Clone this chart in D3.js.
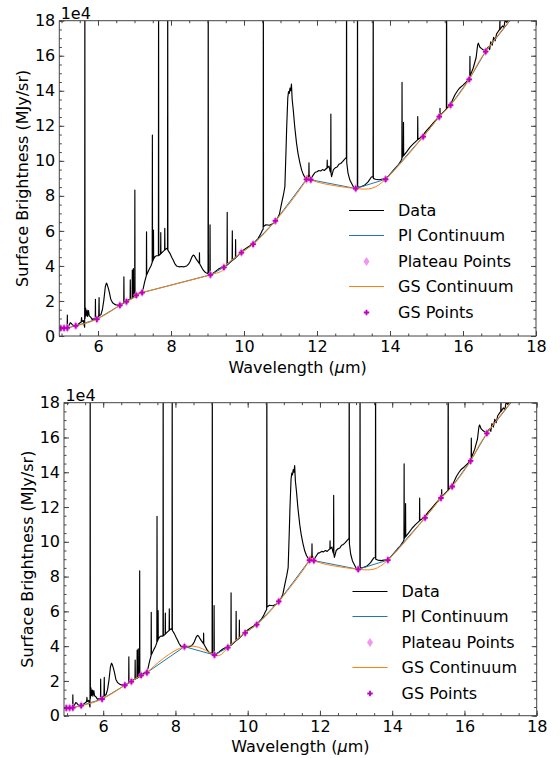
<!DOCTYPE html>
<html><head><meta charset="utf-8">
<script src="https://cdn.jsdelivr.net/npm/d3@7"></script>
<style>
body{margin:0;background:#fff}
svg{display:block}
text{font-family:"DejaVu Sans",sans-serif;fill:#000}
</style>
</head><body>
<svg id="c" width="560" height="758"></svg>
<script>
// Spectrum: [wavelength (um), surface brightness (1e4 MJy/sr)]
const spectrum = [
[4.94,0.47],[4.97,0.44],[5.02,0.45],[5.08,0.45],[5.12,0.47],[5.155,0.48],[5.16,1.2],[5.165,0.5],
[5.20,0.58],[5.24,0.76],[5.27,0.72],[5.30,0.63],[5.35,0.60],[5.40,0.62],[5.45,0.66],[5.50,0.74],
[5.54,0.80],[5.55,1.05],[5.56,0.82],[5.60,0.88],[5.62,0.62],[5.635,0.50],[5.64,22],[5.645,1.0],
[5.66,1.6],[5.675,1.15],[5.70,1.48],[5.715,1.12],[5.74,1.45],[5.76,1.15],[5.80,1.08],[5.84,0.95],
[5.89,0.98],[5.925,1.0],[5.93,2.1],[5.935,1.0],[5.98,1.02],[6.02,1.12],[6.03,2.2],[6.035,1.15],
[6.08,1.22],[6.12,1.5],[6.16,2.05],[6.20,2.8],[6.23,3.02],[6.25,2.95],[6.28,2.75],[6.31,2.5],
[6.35,2.1],[6.40,1.9],[6.45,1.82],[6.50,1.77],[6.56,1.76],[6.62,1.8],[6.67,1.85],[6.705,1.88],
[6.71,3.38],[6.715,1.9],[6.76,1.97],[6.82,2.05],[6.88,2.1],[6.885,3.2],[6.89,2.12],[6.935,2.15],
[6.94,3.77],[6.945,2.16],[6.965,2.2],[6.97,3.85],[6.975,2.2],[7.005,2.25],[7.01,8.33],[7.015,2.28],
[7.05,2.36],[7.10,2.42],[7.15,2.47],[7.21,2.55],[7.24,2.72],[7.28,3.1],[7.325,3.45],[7.33,5.95],
[7.335,3.5],[7.40,3.8],[7.45,4.0],[7.485,4.2],[7.49,11.47],[7.495,4.25],[7.515,4.35],[7.52,6.05],
[7.525,4.4],[7.56,4.53],[7.60,4.58],[7.655,4.58],[7.66,22],[7.665,4.6],[7.70,4.65],[7.715,4.68],
[7.72,5.9],[7.725,4.7],[7.78,4.82],[7.825,4.9],[7.83,6.15],[7.835,4.92],[7.88,5.0],[7.905,4.95],
[7.91,22],[7.915,4.9],[7.97,4.72],[8.02,4.5],[8.06,4.34],[8.10,4.15],[8.15,4.0],[8.22,3.95],
[8.29,3.97],[8.36,3.95],[8.43,4.0],[8.48,4.1],[8.52,4.24],[8.57,4.5],[8.61,4.62],[8.64,4.58],
[8.68,4.43],[8.72,4.3],[8.775,4.15],[8.78,4.75],[8.785,4.12],[8.83,3.95],[8.88,3.77],[8.93,3.65],
[8.97,3.6],[9.015,3.57],[9.02,22],[9.025,3.55],[9.065,3.52],[9.07,6.34],[9.075,3.5],[9.09,3.5],
[9.20,3.65],[9.30,3.82],[9.40,3.93],[9.48,4.0],[9.535,4.05],[9.54,7.06],[9.545,4.06],[9.62,4.2],
[9.675,4.3],[9.68,6.0],[9.685,4.32],[9.765,4.45],[9.77,5.5],[9.775,4.47],[9.85,4.63],[9.93,4.8],
[10.00,4.93],[10.10,5.07],[10.20,5.2],[10.30,5.37],[10.38,5.55],[10.45,5.8],[10.50,6.02],[10.525,6.1],
[10.53,22],[10.535,6.25],[10.60,6.35],[10.70,6.32],[10.80,6.42],[10.90,6.65],[10.97,6.95],[11.03,7.57],
[11.08,8.05],[11.12,8.52],[11.15,10.5],[11.17,11.95],[11.20,13.6],[11.22,13.95],[11.24,13.85],[11.26,14.15],
[11.28,14.0],[11.30,14.38],[11.32,13.5],[11.35,12.9],[11.39,11.95],[11.44,11.0],[11.48,10.43],[11.53,9.9],
[11.58,9.47],[11.63,9.2],[11.67,9.06],[11.71,8.96],[11.75,9.02],[11.775,9.2],[11.78,9.89],[11.785,9.2],
[11.83,8.96],[11.90,9.2],[11.95,9.35],[12.00,9.38],[12.05,9.45],[12.10,9.42],[12.15,9.5],[12.20,9.45],
[12.25,9.55],[12.275,9.6],[12.28,10.05],[12.285,9.6],[12.33,9.7],[12.36,9.4],[12.375,9.35],[12.38,12.67],
[12.385,9.3],[12.40,9.1],[12.45,9.5],[12.50,9.6],[12.55,9.65],[12.60,9.8],[12.65,9.85],[12.70,9.95],
[12.76,10.1],[12.805,10.2],[12.81,22],[12.815,9.9],[12.85,9.3],[12.90,8.9],[12.95,8.7],[13.00,8.5],
[13.06,8.42],[13.105,8.45],[13.11,22],[13.115,8.5],[13.20,8.52],[13.30,8.6],[13.40,8.8],[13.49,9.08],
[13.535,9.1],[13.54,22],[13.545,9.0],[13.60,8.95],[13.70,8.92],[13.80,8.96],[13.88,9.0],[13.95,9.1],
[14.05,9.35],[14.15,9.6],[14.22,9.75],[14.30,10.0],[14.325,10.1],[14.33,14.48],[14.335,10.2],[14.365,10.3],
[14.37,12.2],[14.375,10.3],[14.45,10.5],[14.55,10.78],[14.65,11.0],[14.755,11.2],[14.76,12.52],[14.765,11.22],
[14.85,11.35],[14.91,11.48],[15.00,11.72],[15.10,11.95],[15.20,12.2],[15.30,12.42],[15.365,12.6],[15.37,13.0],
[15.375,12.58],[15.45,12.75],[15.545,12.95],[15.55,22],[15.555,13.0],[15.60,13.1],[15.66,13.22],[15.72,13.5],
[15.78,13.77],[15.85,14.0],[15.91,14.16],[16.00,14.32],[16.10,14.52],[16.185,14.75],[16.19,15.96],[16.195,14.85],
[16.28,15.3],[16.36,15.9],[16.40,16.6],[16.42,16.72],[16.46,16.5],[16.50,16.42],[16.55,16.34],[16.62,16.32],
[16.70,16.5],[16.73,16.35],[16.76,16.8],[16.80,16.6],[16.84,17.05],[16.88,16.85],[16.92,17.25],[16.97,17.4],
[17.005,17.5],[17.01,17.96],[17.015,17.5],[17.08,17.7],[17.12,17.6],[17.15,18.0],[17.20,17.9],[17.28,18.2],
[17.40,18.6],[17.60,19.3],[17.80,20.0],[18.00,20.6]
];
// Continuum anchor points (top panel), [wavelength, brightness 1e4]
const pointsTop = [
[4.98,0.44],[5.07,0.45],[5.16,0.46],[5.39,0.58],[5.97,0.96],[6.60,1.75],[6.78,1.96],[7.05,2.32],
[7.21,2.48],[9.08,3.49],[9.45,3.92],[9.93,4.76],[10.25,5.24],[10.86,6.57],[11.71,8.94],[11.83,8.92],
[13.06,8.42],[13.88,8.95],[14.91,11.38],[15.35,12.52],[15.66,13.18],[16.17,14.65],[16.62,16.24],[17.80,19.35]
];
// Continuum anchor points (bottom panel)
const pointsBottom = [
[4.98,0.44],[5.07,0.45],[5.16,0.46],[5.39,0.58],[5.97,0.96],[6.60,1.75],[6.78,1.96],[7.05,2.32],
[7.21,2.48],[8.25,3.97],[9.08,3.49],[9.45,3.92],[9.93,4.76],[10.25,5.24],[10.86,6.57],[11.71,8.94],[11.83,8.92],
[13.06,8.42],[13.88,8.95],[14.91,11.38],[15.35,12.52],[15.66,13.18],[16.17,14.65],[16.62,16.24],[17.80,19.35]
];
const xTicks = [6,8,10,12,14,16,18];
const yTicks = [0,2,4,6,8,10,12,14,16,18];
const legendLabels = ["Data","Pl Continuum","Plateau Points","GS Continuum","GS Points"];

const C = {data:"#000000", pl:"#1f77b4", plateau:"#ee82ee", gs:"#ff7f0e", gsPts:"#bf00bf"};
const legendLineColors = [C.data, C.pl, null, C.gs, null];
const diamond = "M0,-4.5L3,0L0,4.5L-3,0Z";
const plus = "M-0.9,-2.7H0.9V-0.9H2.7V0.9H0.9V2.7H-0.9V0.9H-2.7V-0.9H-0.9Z";

const svg = d3.select("#c");
const panels = [
  {L:59.3,R:536,T:20.7,B:336,x0:4.94,pts:pointsTop,legX:349,legY:209.5},
  {L:64,R:536.7,T:402.7,B:715.7,x0:4.915,pts:pointsBottom,legX:352.5,legY:590.5}
];
const axisCol = "#444";

panels.forEach((p,i)=>{
  const x = d3.scaleLinear().domain([p.x0,18]).range([p.L,p.R]);
  const y = d3.scaleLinear().domain([0,18]).range([p.B,p.T]);
  const cid = "clip"+i;
  svg.append("clipPath").attr("id",cid).append("rect")
    .attr("x",p.L).attr("y",p.T).attr("width",p.R-p.L).attr("height",p.B-p.T);
  const plot = svg.append("g").attr("clip-path",`url(#${cid})`);
  const line = d3.line().x(d=>x(d[0])).y(d=>y(d[1]));
  const spline = d3.line().x(d=>x(d[0])).y(d=>y(d[1])).curve(d3.curveNatural);

  plot.append("path").datum(spectrum).attr("d",line)
    .attr("fill","none").attr("stroke",C.data).attr("stroke-width",1.15).attr("stroke-linejoin","round");
  plot.append("path").datum(p.pts).attr("d",line)
    .attr("fill","none").attr("stroke",C.pl).attr("stroke-width",1);
  plot.selectAll(".pl").data(p.pts).enter().append("path")
    .attr("d",diamond).attr("transform",d=>`translate(${x(d[0])},${y(d[1])})`)
    .attr("fill",C.plateau).attr("opacity",0.85);
  plot.append("path").datum(p.pts).attr("d",spline)
    .attr("fill","none").attr("stroke",C.gs).attr("stroke-width",1);
  plot.selectAll(".gp").data(p.pts).enter().append("path")
    .attr("d",plus).attr("transform",d=>`translate(${x(d[0])},${y(d[1])})`)
    .attr("fill",C.gsPts);

  // axes
  const minorX = d3.range(5,18.01,0.5).filter(v=>v>=p.x0);
  const minorY = d3.range(0,18.01,0.5);
  const mk = (axis, tr) => {
    const g = svg.append("g").attr("transform",tr).call(axis);
    g.select(".domain").remove();
    g.selectAll(".tick line").attr("stroke",axisCol);
    g.selectAll(".tick text").attr("font-size",16).attr("font-family","DejaVu Sans").attr("fill","#000");
    return g;
  };
  mk(d3.axisBottom(x).tickValues(minorX).tickSize(-2.5).tickFormat(""), `translate(0,${p.B})`);
  mk(d3.axisTop(x).tickValues(minorX).tickSize(-2.5).tickFormat(""), `translate(0,${p.T})`);
  mk(d3.axisLeft(y).tickValues(minorY).tickSize(-2.5).tickFormat(""), `translate(${p.L},0)`);
  mk(d3.axisRight(y).tickValues(minorY).tickSize(-2.5).tickFormat(""), `translate(${p.R},0)`);
  mk(d3.axisBottom(x).tickValues(xTicks).tickSize(-5).tickPadding(5).tickFormat(d3.format("d")), `translate(0,${p.B})`);
  mk(d3.axisTop(x).tickValues(xTicks).tickSize(-5).tickFormat(""), `translate(0,${p.T})`);
  mk(d3.axisLeft(y).tickValues(yTicks).tickSize(-5).tickPadding(4).tickFormat(d3.format("d")), `translate(${p.L},0)`);
  mk(d3.axisRight(y).tickValues(yTicks).tickSize(-5).tickFormat(""), `translate(${p.R},0)`);

  svg.append("rect").attr("x",p.L).attr("y",p.T).attr("width",p.R-p.L).attr("height",p.B-p.T)
    .attr("fill","none").attr("stroke",axisCol).attr("stroke-width",1);

  svg.append("text").attr("x",p.L+1.4).attr("y",p.T-2).attr("font-size",16).text("1e4");
  svg.append("text").attr("transform",`translate(${p.L-31.5},${(p.T+p.B)/2}) rotate(-90)`)
    .attr("text-anchor","middle").attr("font-size",16).text("Surface Brightness (MJy/sr)");
  const xl = svg.append("text").attr("x",(p.L+p.R)/2).attr("y",p.B+36.5)
    .attr("text-anchor","middle").attr("font-size",16);
  xl.append("tspan").text("Wavelength (");
  xl.append("tspan").attr("font-style","italic").text("\u03bc");
  xl.append("tspan").text("m)");

  // legend
  const lg = svg.append("g");
  legendLabels.forEach((lab,k)=>{
    const yy = Math.round(p.legY + k*25.5) + 0.5;
    const cx = p.legX + 17.5;
    if (legendLineColors[k]) {
      lg.append("line").attr("x1",p.legX).attr("x2",p.legX+35).attr("y1",yy).attr("y2",yy)
        .attr("stroke",legendLineColors[k]).attr("stroke-width",k===0?1.15:1);
    } else if (k===2) {
      lg.append("path").attr("d",diamond).attr("transform",`translate(${cx},${yy})`)
        .attr("fill",C.plateau).attr("opacity",0.85);
    } else {
      lg.append("path").attr("d",plus).attr("transform",`translate(${cx},${yy})`).attr("fill",C.gsPts);
    }
    lg.append("text").attr("x",p.legX+49).attr("y",yy).attr("dy","0.36em")
      .attr("font-size",16).text(lab);
  });
});
</script>
</body></html>
